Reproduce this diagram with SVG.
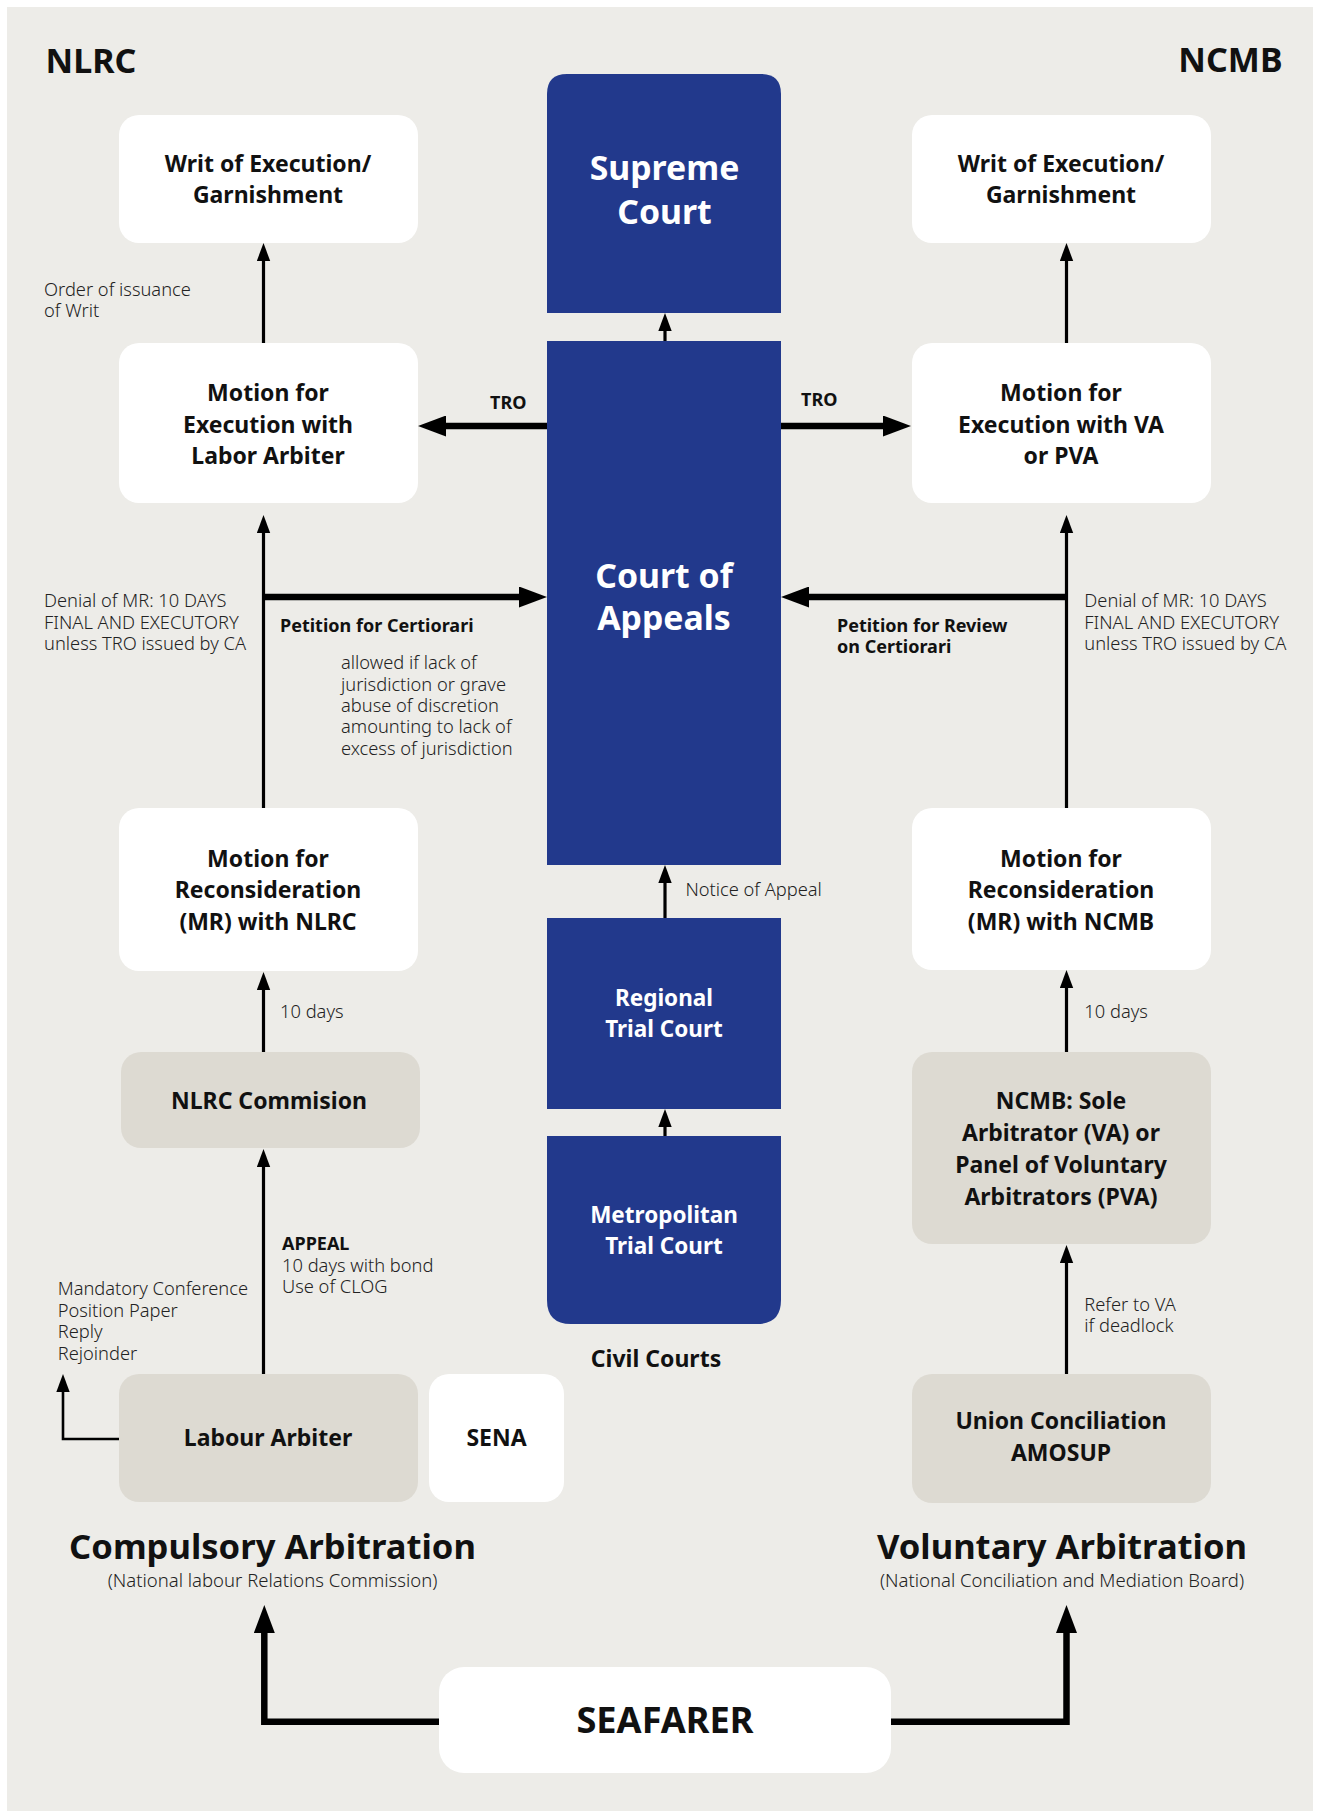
<svg xmlns="http://www.w3.org/2000/svg" width="1324" height="1811" viewBox="0 0 1324 1811">
<defs>
<style>
text{font-family:"Noto Sans","Liberation Sans",sans-serif;fill:#111}
.t{font-size:23px;font-weight:700;text-anchor:middle}
.w{font-size:33.8px;font-weight:700;text-anchor:middle;fill:#fff}
.c{font-size:22.5px;font-weight:700;text-anchor:middle;fill:#fff}
.s{font-size:18.3px;font-weight:300;fill:#222}
.sb{font-size:18px;font-weight:700}
.h{font-size:34.6px;font-weight:700;text-anchor:middle}
.hs{font-size:18.5px;font-weight:300;text-anchor:middle;fill:#222}
.wh{fill:#fff}
.bg{fill:#dddad2}
.bl{fill:#22398c}
.ln{fill:none;stroke:#000;stroke-width:3.2}
.lt{fill:none;stroke:#000;stroke-width:6.5}
</style>
<marker id="a" markerUnits="userSpaceOnUse" markerWidth="18" markerHeight="14" refX="0" refY="7" orient="auto"><path d="M0,0.3 L18,7 L0,13.7 Z" fill="#000"/></marker>
<marker id="b" markerUnits="userSpaceOnUse" markerWidth="28" markerHeight="21" refX="0" refY="10.5" orient="auto"><path d="M0,0 L28,10.5 L0,21 Z" fill="#000"/></marker>
</defs>
<rect x="0" y="0" width="1324" height="1811" fill="#fff"/>
<rect x="7" y="7" width="1306" height="1804" fill="#edece8"/>

<text x="45.5" y="72.5" style="font-size:34px;font-weight:700">NLRC</text>
<text x="1282.5" y="72" style="font-size:34px;font-weight:700;text-anchor:end">NCMB</text>

<g id="connectors">
<path class="ln" d="M263.5,343 V261" marker-end="url(#a)"/>
<path class="ln" d="M1066.5,343 V261" marker-end="url(#a)"/>
<path class="ln" d="M263.5,808 V533" marker-end="url(#a)"/>
<path class="ln" d="M1066.5,808 V533" marker-end="url(#a)"/>
<path class="lt" d="M262,597 H519" marker-end="url(#b)"/>
<path class="lt" d="M1068,597 H809" marker-end="url(#b)"/>
<path class="lt" d="M547,426 H446" marker-end="url(#b)"/>
<path class="lt" d="M781,426 H883" marker-end="url(#b)"/>
<path class="ln" d="M263.5,1052 V990" marker-end="url(#a)"/>
<path class="ln" d="M1066.5,1052 V988" marker-end="url(#a)"/>
<path class="ln" d="M263.5,1374 V1167" marker-end="url(#a)"/>
<path class="ln" d="M1066.5,1374 V1263" marker-end="url(#a)"/>
<path class="ln" style="stroke-width:2.6" d="M119,1439 H63 V1392" marker-end="url(#a)"/>
<path class="ln" d="M665,918 V883" marker-end="url(#a)"/>
<path class="ln" d="M665,1136 V1127" marker-end="url(#a)"/>
<path class="ln" d="M665,341 V331" marker-end="url(#a)"/>
<path class="lt" d="M439,1721.7 H264.3 V1633" marker-end="url(#b)"/>
<path class="lt" d="M891,1721.7 H1066.5 V1633" marker-end="url(#b)"/>
</g>

<g id="supreme-court">
<path class="bl" d="M547,313 V94 Q547,74 567,74 H761 Q781,74 781,94 V313 Z"/>
<text class="w" x="664.5" y="180">Supreme<tspan x="664.5" y="224">Court</tspan></text>
</g>
<g id="court-of-appeals">
<rect class="bl" x="547" y="341" width="234" height="524"/>
<text class="w" x="664" y="588">Court of<tspan x="664" y="630">Appeals</tspan></text>
</g>
<g id="regional-trial-court">
<rect class="bl" x="547" y="918" width="234" height="191"/>
<text class="c" x="664" y="1006">Regional<tspan x="664" y="1037">Trial Court</tspan></text>
</g>
<g id="metropolitan-trial-court">
<path class="bl" d="M547,1136 H781 V1300 Q781,1324 757,1324 H571 Q547,1324 547,1300 Z"/>
<text class="c" x="664" y="1223">Metropolitan<tspan x="664" y="1254">Trial Court</tspan></text>
</g>

<g id="writ-left">
<rect class="wh" x="119" y="115" width="299" height="128" rx="20"/>
<text class="t" x="268" y="171.5">Writ of Execution/<tspan x="268" y="202.5">Garnishment</tspan></text>
</g>
<g id="motion-exec-left">
<rect class="wh" x="119" y="343" width="299" height="160" rx="20"/>
<text class="t" x="268" y="401">Motion for<tspan x="268" y="432.5">Execution with</tspan><tspan x="268" y="464">Labor Arbiter</tspan></text>
</g>
<g id="mr-left">
<rect class="wh" x="119" y="808" width="299" height="163" rx="20"/>
<text class="t" x="268" y="866.5">Motion for<tspan x="268" y="898">Reconsideration</tspan><tspan x="268" y="929.5">(MR) with NLRC</tspan></text>
</g>
<g id="nlrc-commission">
<rect class="bg" x="121" y="1052" width="299" height="96" rx="20"/>
<text class="t" x="269" y="1109">NLRC Commision</text>
</g>
<g id="labour-arbiter">
<rect class="bg" x="119" y="1374" width="299" height="128" rx="20"/>
<text class="t" x="268" y="1446">Labour Arbiter</text>
</g>
<g id="sena">
<rect class="wh" x="429" y="1374" width="135" height="128" rx="20"/>
<text class="t" x="496.5" y="1446">SENA</text>
</g>

<g id="writ-right">
<rect class="wh" x="912" y="115" width="299" height="128" rx="20"/>
<text class="t" x="1061" y="171.5">Writ of Execution/<tspan x="1061" y="202.5">Garnishment</tspan></text>
</g>
<g id="motion-exec-right">
<rect class="wh" x="912" y="343" width="299" height="160" rx="20"/>
<text class="t" x="1061" y="401">Motion for<tspan x="1061" y="432.5">Execution with VA</tspan><tspan x="1061" y="464">or PVA</tspan></text>
</g>
<g id="mr-right">
<rect class="wh" x="912" y="808" width="299" height="162" rx="20"/>
<text class="t" x="1061" y="866.5">Motion for<tspan x="1061" y="898">Reconsideration</tspan><tspan x="1061" y="929.5">(MR) with NCMB</tspan></text>
</g>
<g id="ncmb-sole">
<rect class="bg" x="912" y="1052" width="299" height="192" rx="20"/>
<text class="t" x="1061" y="1109">NCMB: Sole<tspan x="1061" y="1141">Arbitrator (VA) or</tspan><tspan x="1061" y="1172.5">Panel of Voluntary</tspan><tspan x="1061" y="1204.5">Arbitrators (PVA)</tspan></text>
</g>
<g id="union-conciliation">
<rect class="bg" x="912" y="1374" width="299" height="129" rx="20"/>
<text class="t" x="1061" y="1428.5">Union Conciliation<tspan x="1061" y="1460.5">AMOSUP</tspan></text>
</g>

<g id="seafarer">
<rect class="wh" x="439" y="1667" width="452" height="106" rx="25"/>
<text x="665" y="1733" style="font-size:36.2px;font-weight:700;text-anchor:middle">SEAFARER</text>
</g>

<g id="labels">
<text class="s" x="44" y="296">Order of issuance<tspan x="44" y="317">of Writ</tspan></text>
<text class="sb" x="490" y="409">TRO</text>
<text class="sb" x="801" y="406">TRO</text>
<text class="s" x="44" y="607.3">Denial of MR: 10 DAYS<tspan x="44" y="628.7">FINAL AND EXECUTORY</tspan><tspan x="44" y="650">unless TRO issued by CA</tspan></text>
<text class="sb" x="280" y="631.7">Petition for Certiorari</text>
<text class="s" x="341" y="669.3">allowed if lack of<tspan x="341" y="690.7">jurisdiction or grave</tspan><tspan x="341" y="712">abuse of discretion</tspan><tspan x="341" y="733.4">amounting to lack of</tspan><tspan x="341" y="754.8">excess of jurisdiction</tspan></text>
<text class="sb" x="837" y="631.7">Petition for Review<tspan x="837" y="653.3">on Certiorari</tspan></text>
<text class="s" x="1084.3" y="607.3">Denial of MR: 10 DAYS<tspan x="1084.3" y="628.7">FINAL AND EXECUTORY</tspan><tspan x="1084.3" y="650">unless TRO issued by CA</tspan></text>
<text class="s" x="685.4" y="896">Notice of Appeal</text>
<text class="s" x="280" y="1018.3">10 days</text>
<text class="s" x="1084.3" y="1018.3">10 days</text>
<text x="282" y="1250"><tspan class="sb">APPEAL</tspan><tspan class="s" x="282" y="1271.5">10 days with bond</tspan><tspan class="s" x="282" y="1293">Use of CLOG</tspan></text>
<text class="s" x="57.7" y="1295">Mandatory Conference<tspan x="57.7" y="1316.5">Position Paper</tspan><tspan x="57.7" y="1338">Reply</tspan><tspan x="57.7" y="1359.5">Rejoinder</tspan></text>
<text class="s" x="1084.3" y="1311">Refer to VA<tspan x="1084.3" y="1332">if deadlock</tspan></text>
<text x="656" y="1367" style="font-size:23px;font-weight:700;text-anchor:middle">Civil Courts</text>
<text class="h" x="272.5" y="1559.3">Compulsory Arbitration</text>
<text class="hs" x="272.5" y="1587.3">(National labour Relations Commission)</text>
<text class="h" x="1062" y="1559.3">Voluntary Arbitration</text>
<text class="hs" x="1062" y="1587.3">(National Conciliation and Mediation Board)</text>
</g>
</svg>
